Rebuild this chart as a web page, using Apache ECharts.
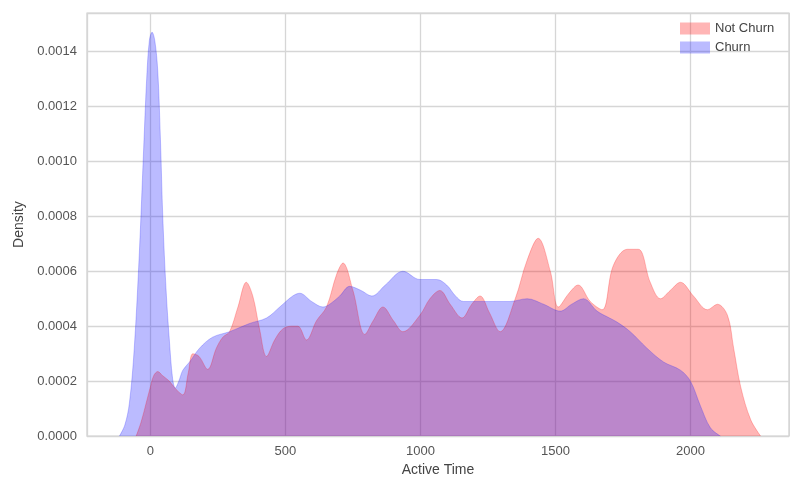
<!DOCTYPE html>
<html>
<head>
<meta charset="utf-8">
<script src="https://cdn.jsdelivr.net/npm/echarts@6/dist/echarts.min.js"></script>
<style>
  html, body { margin: 0; padding: 0; background: #ffffff; }
  #chart { width: 790px; height: 482px; }
</style>
</head>
<body>
<div id="chart"></div>
<script>
// Kernel density of active time, split by churn status
const seriesNames = ['Not Churn', 'Churn'];

const notChurnX = [-53, -35, -16, 0, 12, 27, 45, 70, 95, 120, 140, 157, 180, 212, 244, 268, 293, 324, 355, 379, 404, 430, 460, 490, 522, 546, 578, 615, 652, 690, 713, 750, 794, 825, 861, 900, 935, 998, 1035, 1072, 1110, 1154, 1190, 1221, 1255, 1295, 1351, 1395, 1436, 1481, 1511, 1550, 1584, 1629, 1673, 1714, 1766, 1807, 1851, 1889, 1925, 1963, 2011, 2063, 2100, 2137, 2160, 2186, 2223, 2260];
const notChurnY = [0, 0.00005, 0.00012, 0.00018, 0.00022, 0.000235, 0.00022, 0.0002, 0.00017, 0.00015, 0.00023, 0.0003, 0.00029, 0.000243, 0.00032, 0.00036, 0.00038, 0.00047, 0.00056, 0.00051, 0.00039, 0.00029, 0.00035, 0.00039, 0.0004, 0.0004, 0.00035, 0.00042, 0.00047, 0.00059, 0.00063, 0.00053, 0.00037, 0.00042, 0.00047, 0.00042, 0.00038, 0.00044, 0.0005, 0.00053, 0.00048, 0.00043, 0.00048, 0.00051, 0.00045, 0.00038, 0.0005, 0.00064, 0.00072, 0.0006, 0.00047, 0.00052, 0.00055, 0.00049, 0.00046, 0.00062, 0.00068, 0.00068, 0.00056, 0.0005, 0.00053, 0.00056, 0.00051, 0.00046, 0.00048, 0.00044, 0.00032, 0.00018, 0.00006, 0];

const churnX = [-115, -95, -78, -60, -41, -25, -14, -4, 6, 16, 27, 37, 46, 58, 70, 82, 92, 105, 120, 145, 182, 230, 293, 367, 430, 479, 527, 553, 597, 639, 664, 701, 738, 780, 820, 870, 935, 998, 1060, 1097, 1130, 1159, 1221, 1280, 1332, 1395, 1456, 1518, 1560, 1604, 1654, 1700, 1728, 1777, 1839, 1900, 1963, 2000, 2037, 2074, 2111];
const churnY = [0, 0.00004, 0.00012, 0.00032, 0.00067, 0.00105, 0.0013, 0.00144, 0.00147, 0.00144, 0.00133, 0.00108, 0.00079, 0.00053, 0.00035, 0.00021, 0.000175, 0.0002, 0.00024, 0.00027, 0.00032, 0.00036, 0.00038, 0.00041, 0.00043, 0.00047, 0.00051, 0.00052, 0.00049, 0.00047, 0.00048, 0.00051, 0.000545, 0.00053, 0.00051, 0.00055, 0.0006, 0.00057, 0.00057, 0.00055, 0.00051, 0.00049, 0.00049, 0.00049, 0.00049, 0.0005, 0.00048, 0.000455, 0.00048, 0.0005, 0.000455, 0.00043, 0.000415, 0.00038, 0.00032, 0.00027, 0.00024, 0.0002, 0.00011, 0.00003, 0];

const xTicks = [0, 500, 1000, 1500, 2000];
const yTicks = [0, 0.0002, 0.0004, 0.0006, 0.0008, 0.0010, 0.0012, 0.0014];

const zip = (xs, ys) => xs.map((x, i) => [x, ys[i]]);

const FONT = '"Liberation Sans", Arial, sans-serif';
const TEXT = '#555555';
const GRID = '#d6d6d6';

const chart = echarts.init(document.getElementById('chart'), null, { renderer: 'canvas' });

function densitySeries(name, xs, ys, color) {
  return {
    name: name,
    type: 'line',
    data: zip(xs, ys),
    smooth: 0.35,
    showSymbol: false,
    symbol: 'none',
    lineStyle: { color: color, width: 0.8, opacity: 0.3 },
    itemStyle: { color: color, opacity: 0.3 },
    areaStyle: { color: color, opacity: 0.3 },
    emphasis: { disabled: true },
    animation: false
  };
}

chart.setOption({
  backgroundColor: '#ffffff',
  animation: false,
  grid: {
    left: 87, right: 1, top: 13, bottom: 45,
    show: true,
    borderColor: '#cfcfcf',
    borderWidth: 1.2,
    backgroundColor: 'transparent'
  },
  legend: {
    data: seriesNames,
    orient: 'vertical',
    left: 675,
    top: 17,
    itemWidth: 30,
    itemHeight: 12,
    itemGap: 6,
    icon: 'rect',
    textStyle: { fontFamily: FONT, fontSize: 13, color: '#444444', padding: [0, 0, 0, 0] }
  },
  xAxis: {
    type: 'value',
    min: -235,
    max: 2365,
    splitNumber: 5,
    name: 'Active Time',
    nameLocation: 'middle',
    nameGap: 24,
    nameTextStyle: { fontFamily: FONT, fontSize: 14, color: '#444444' },
    axisLine: { show: false },
    axisTick: { show: false },
    axisLabel: {
      fontFamily: FONT, fontSize: 13, color: TEXT, margin: 9,
      showMinLabel: false, showMaxLabel: false,
      formatter: v => (xTicks.includes(v) ? String(v) : '')
    },
    splitLine: { show: true, lineStyle: { color: GRID, width: 1.3 } }
  },
  yAxis: {
    type: 'value',
    min: 0,
    max: 0.00154,
    interval: 0.0002,
    name: 'Density',
    nameLocation: 'middle',
    nameGap: 60,
    nameTextStyle: { fontFamily: FONT, fontSize: 14, color: '#444444' },
    axisLine: { show: false },
    axisTick: { show: false },
    axisLabel: {
      fontFamily: FONT, fontSize: 13, color: TEXT, margin: 10,
      showMaxLabel: false,
      formatter: v => (yTicks.some(t => Math.abs(t - v) < 1e-9) ? v.toFixed(4) : '')
    },
    splitLine: { show: true, lineStyle: { color: GRID, width: 1.3 } }
  },
  series: [
    densitySeries(seriesNames[0], notChurnX, notChurnY, '#ff0a0a'),
    densitySeries(seriesNames[1], churnX, churnY, '#1e1eff')
  ]
});
</script>
</body>
</html>
